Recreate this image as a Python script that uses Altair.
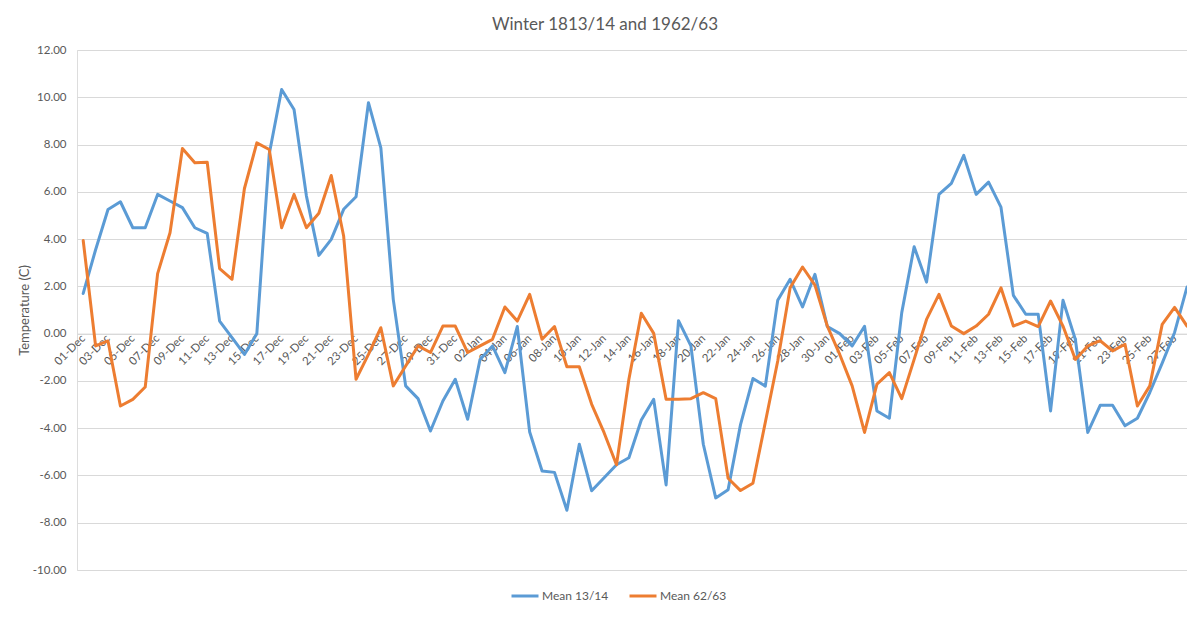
import altair as alt
import pandas as pd

# Categories: 1 Dec .. 28 Feb
months = [("Dec", 31), ("Jan", 31), ("Feb", 28)]
day_labels = [f"{d:02d}-{m}" for m, n in months for d in range(1, n + 1)]

mean_13_14 = [
    1.70, 3.55, 5.25, 5.58, 4.48, 4.48, 5.89, 5.61, 5.33, 4.48,
    4.24, 0.53, -0.17, -0.88, 0.00, 7.60, 10.33, 9.48, 5.82, 3.31,
    3.99, 5.26, 5.79, 9.77, 7.86, 1.45, -2.21, -2.75, -4.12, -2.85,
    -1.93, -3.62, -1.09, -0.52, -1.65, 0.30, -4.16, -5.81, -5.87, -7.47,
    -4.68, -6.65, -6.10, -5.55, -5.25, -3.65, -2.78, -6.40, 0.55, -0.52,
    -4.68, -6.95, -6.60, -3.85, -1.90, -2.22, 1.41, 2.30, 1.13, 2.51,
    0.30, 0.00, -0.52, 0.31, -3.27, -3.58, 0.89, 3.68, 2.18, 5.89,
    6.36, 7.54, 5.89, 6.41, 5.35, 1.62, 0.82, 0.82, -3.27, 1.41,
    -0.25, -4.18, -3.03, -3.03, -3.90, -3.58, -2.49, -1.25, 0.05, 1.97,
]

mean_62_63 = [
    3.94, -0.52, -0.31, -3.06, -2.78, -2.26, 2.54, 4.27, 7.83, 7.23,
    7.25, 2.75, 2.30, 6.14, 8.07, 7.79, 4.48, 5.89, 4.48, 5.09,
    6.69, 4.13, -1.93, -0.88, 0.25, -2.21, -1.37, -0.52, -0.80, 0.32,
    0.32, -0.80, -0.52, -0.24, 1.13, 0.53, 1.66, -0.24, 0.30, -1.40,
    -1.40, -2.99, -4.19, -5.55, -1.93, 0.86, 0.01, -2.78, -2.78, -2.75,
    -2.50, -2.75, -6.12, -6.64, -6.33, -3.75, -1.16, 1.94, 2.82, 2.05,
    0.32, -0.88, -2.21, -4.18, -2.14, -1.65, -2.75, -1.09, 0.60, 1.66,
    0.32, 0.00, 0.32, 0.82, 1.94, 0.32, 0.53, 0.30, 1.38, 0.32,
    -1.09, -0.52, -0.30, -0.73, -0.45, -3.06, -2.21, 0.39, 1.11, 0.32,
]

series_names = ["Mean 13/14", "Mean 62/63"]
series_colors = ["#5B9BD5", "#ED7D31"]
y_tick_values = list(range(-10, 13, 2))
x_tick_values = list(range(0, len(day_labels), 2))

rows = []
for name, vals in zip(series_names, [mean_13_14, mean_62_63]):
    for i, v in enumerate(vals):
        rows.append({"idx": i, "day": day_labels[i], "series": name, "temp": v})
df = pd.DataFrame(rows)

label_array = "[" + ",".join(f"'{s}'" for s in day_labels) + "]"

TEXT = "#595959"
GRID = "#D9D9D9"
FONT = "Lato"

chart = alt.Chart(df).mark_line(strokeWidth=3, strokeJoin="round", strokeCap="round").encode(
    x=alt.X(
        "idx:Q",
        scale=alt.Scale(domain=[-0.5, 89.0], nice=False, zero=False),
        axis=alt.Axis(
            values=x_tick_values,
            labelExpr=f"{label_array}[datum.value]",
            labelAngle=315,
            labelAlign="right",
            labelBaseline="middle",
            labelPadding=3,
            labelFontSize=11.5,
            labelColor=TEXT,
            labelFont=FONT,
            labelOverlap=False,
            labelFlush=False,
            grid=False,
            domain=True,
            domainColor=GRID,
            ticks=False,
            offset=-236.4,
            title=None,
        ),
    ),
    y=alt.Y(
        "temp:Q",
        scale=alt.Scale(domain=[-10, 12], nice=False, zero=False),
        axis=alt.Axis(
            values=y_tick_values,
            labelExpr="(datum.value < 0 ? '-' : '') + format(abs(datum.value), '.2f')",
            labelFontSize=11.5,
            labelColor=TEXT,
            labelFont=FONT,
            labelPadding=11,
            grid=True,
            gridColor=GRID,
            gridWidth=1,
            domain=False,
            ticks=False,
            title="Temperature (C)",
            titleFont=FONT,
            titleFontSize=13,
            titleFontWeight="normal",
            titleColor=TEXT,
            titlePadding=1,
        ),
    ),
    color=alt.Color(
        "series:N",
        scale=alt.Scale(domain=series_names, range=series_colors),
        legend=alt.Legend(
            orient="none",
            legendX=433,
            legendY=531,
            direction="horizontal",
            title=None,
            symbolType="stroke",
            symbolSize=729,
            symbolStrokeWidth=3,
            labelFontSize=12,
            labelFont=FONT,
            labelColor=TEXT,
            labelOffset=2,
            columnPadding=14,
        ),
    ),
).properties(
    width=1110,
    height=520,
    title=alt.Title(
        "Winter 1813/14 and 1962/63",
        font=FONT,
        fontSize=17,
        fontWeight="normal",
        color=TEXT,
        anchor="middle",
        dx=-27,
        offset=10,
    ),
    autosize=alt.AutoSizeParams(type="none"),
    padding={"left": 69, "top": 42, "right": 0, "bottom": 37},
).configure_view(stroke=None).configure(background="white")

chart.save("out.html", embed_options={"renderer": "svg", "actions": False})
